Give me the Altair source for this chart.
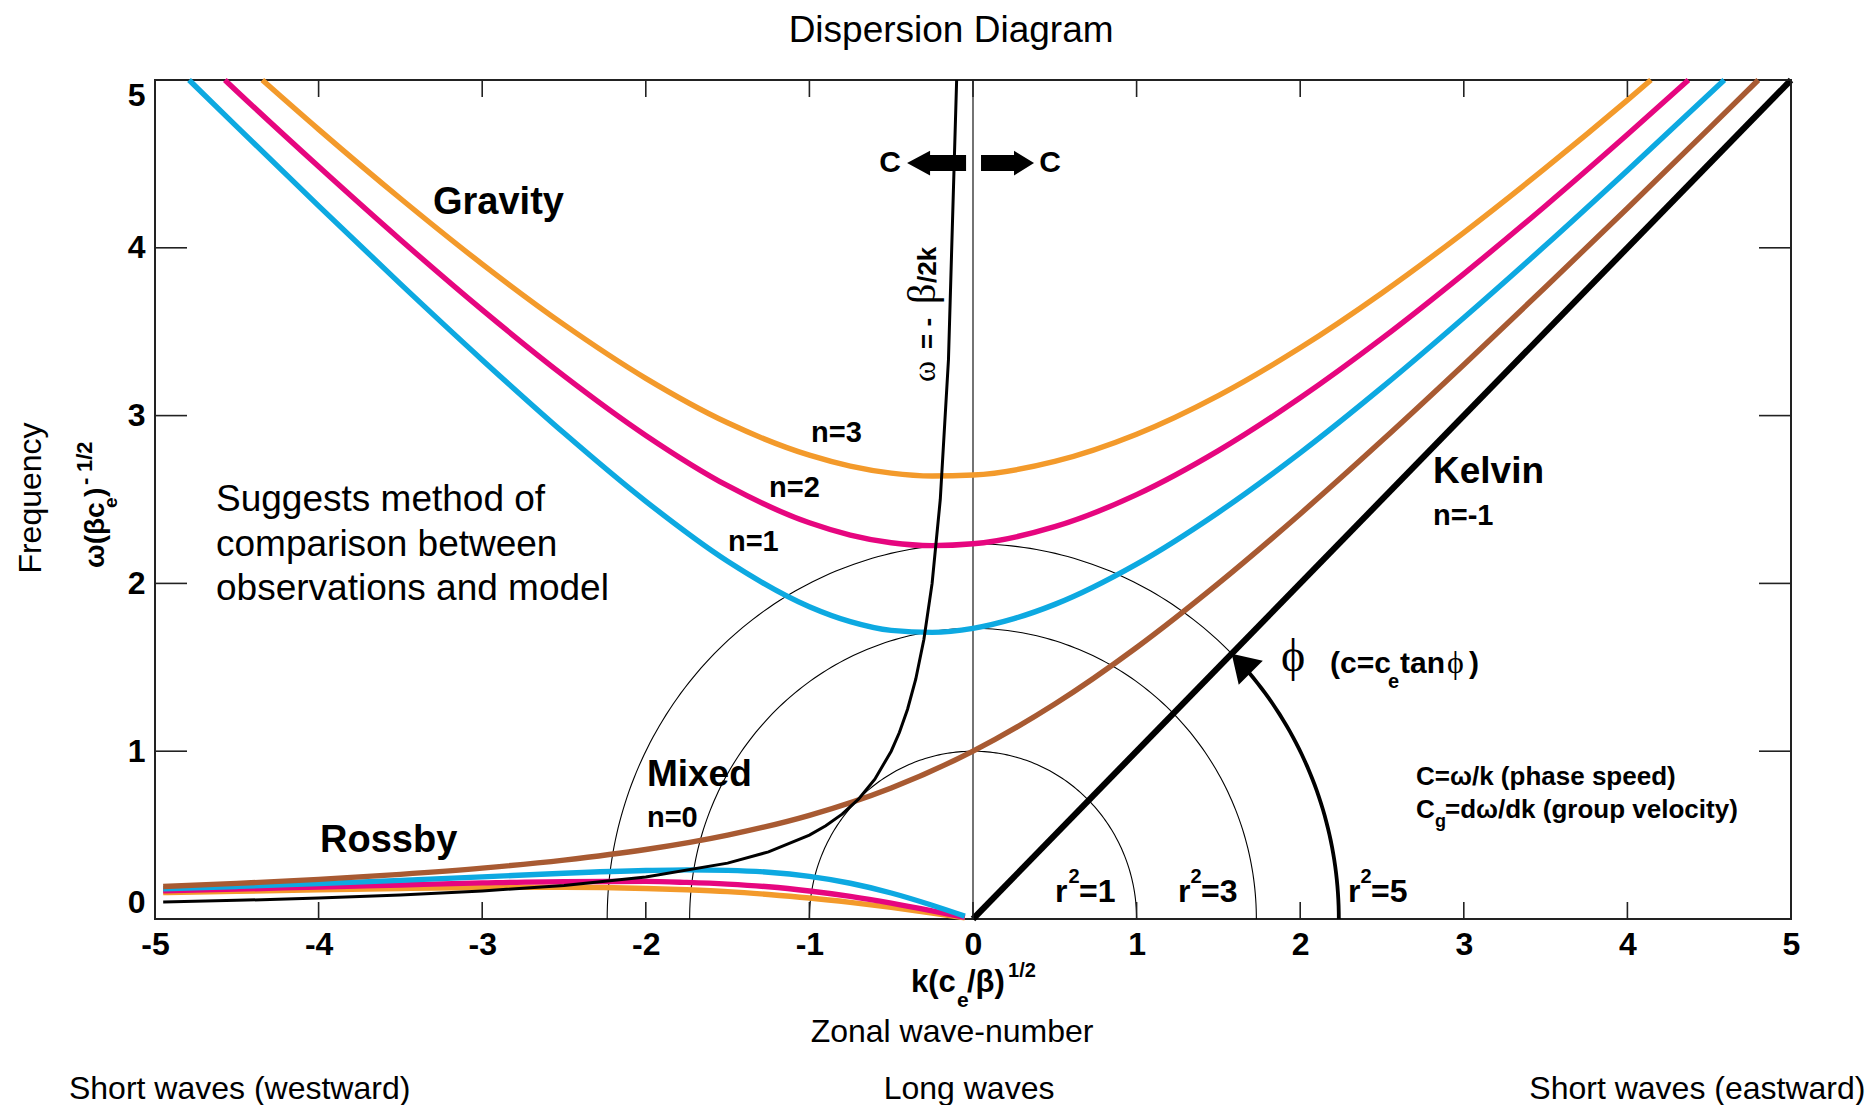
import math
import pandas as pd
import altair as alt

# ------------------------------------------------------------------
# Values (k = k(c_e/beta)^1/2, w = frequency)
# ------------------------------------------------------------------
K_N1_GRAV = [-4.792, -4.5, -4.0, -3.5, -3.0, -2.5, -2.0, -1.5, -1.0, -0.75, -0.5, -0.25, 0.0, 0.25, 0.5, 1.0, 1.5, 2.0, 2.5, 3.0, 3.5, 4.0, 4.592]
W_N1_GRAV = [5.0, 4.722, 4.250, 3.785, 3.332, 2.896, 2.489, 2.132, 1.861, 1.772, 1.720, 1.708, 1.732, 1.790, 1.875, 2.115, 2.423, 2.778, 3.168, 3.583, 4.015, 4.461, 5.0]

K_N2_GRAV = [-4.573, -4.5, -4.0, -3.5, -3.0, -2.5, -2.0, -1.5, -1.0, -0.75, -0.5, -0.25, 0.0, 0.5, 1.0, 1.5, 2.0, 2.5, 3.0, 3.5, 4.0, 4.373]
W_N2_GRAV = [5.0, 4.933, 4.484, 4.048, 3.630, 3.237, 2.882, 2.582, 2.361, 2.288, 2.242, 2.225, 2.236, 2.338, 2.529, 2.791, 3.106, 3.460, 3.845, 4.251, 4.675, 5.0]

K_N3_GRAV = [-4.344, -4.0, -3.5, -3.0, -2.5, -2.0, -1.5, -1.0, -0.75, -0.5, -0.25, 0.0, 0.5, 1.0, 1.5, 2.0, 2.5, 3.0, 3.5, 4.0, 4.144]
W_N3_GRAV = [5.0, 4.706, 4.294, 3.903, 3.542, 3.222, 2.957, 2.764, 2.699, 2.657, 2.640, 2.646, 2.727, 2.889, 3.119, 3.404, 3.731, 4.091, 4.476, 4.880, 5.0]

K_ROSSBY = [-4.95, -4.5, -4.0, -3.5, -3.0, -2.5, -2.0, -1.75, -1.5, -1.25, -1.0, -0.75, -0.5, -0.25, -0.05]
W_N1_ROSS = [0.180, 0.194, 0.211, 0.230, 0.251, 0.273, 0.289, 0.293, 0.290, 0.279, 0.254, 0.213, 0.155, 0.082, 0.017]
W_N2_ROSS = [0.168, 0.178, 0.191, 0.203, 0.215, 0.223, 0.224, 0.218, 0.208, 0.192, 0.167, 0.135, 0.095, 0.049, 0.010]
W_N3_ROSS = [0.157, 0.165, 0.174, 0.182, 0.188, 0.189, 0.182, 0.174, 0.163, 0.146, 0.125, 0.099, 0.069, 0.035, 0.007]

K_MIXED = [-4.95, -4.5, -4.0, -3.5, -3.0, -2.5, -2.0, -1.5, -1.0, -0.5, 0.0, 0.5, 1.0, 1.5, 2.0, 2.5, 3.0, 3.5, 4.0, 4.5, 4.8]
W_MIXED = [0.194, 0.212, 0.236, 0.266, 0.303, 0.351, 0.414, 0.500, 0.618, 0.781, 1.000, 1.281, 1.618, 2.000, 2.414, 2.851, 3.303, 3.766, 4.236, 4.712, 5.0]

K_KELVIN = [0.0, 5.0]
W_KELVIN = [0.0, 5.0]

K_ZERO_CG = [-4.95, -4.5, -4.0, -3.5, -3.0, -2.5, -2.0, -1.5, -1.25, -1.0, -0.9, -0.8, -0.7, -0.6, -0.5, -0.45, -0.4, -0.35, -0.3, -0.25, -0.2, -0.15, -0.1]
W_ZERO_CG = [0.101, 0.111, 0.125, 0.143, 0.167, 0.200, 0.250, 0.333, 0.400, 0.500, 0.556, 0.625, 0.714, 0.833, 1.000, 1.111, 1.250, 1.429, 1.667, 2.000, 2.500, 3.333, 5.000]

R_SQUARED = [1, 3, 5]
PHI_ARC_R2 = 5
PHI_ARC_DEG = [0, 41]
PHI_TIP_DEG = 45

X_TICKS = [-5, -4, -3, -2, -1, 0, 1, 2, 3, 4, 5]
Y_TICKS = [0, 1, 2, 3, 4, 5]

# ------------------------------------------------------------------
# Styles
# ------------------------------------------------------------------
SANS = "Liberation Sans, Arial, Helvetica, sans-serif"
SERIF = "Liberation Serif, DejaVu Serif, Times New Roman, serif"
BLUE = "#0DA9E1"
MAGENTA = "#E6067F"
ORANGE = "#F39A2B"
BROWN = "#A85A32"
BLACK = "#000000"
PW, PH = 1636, 839
CURVE_W = 5.4

xs = alt.Scale(domain=[-5, 5], nice=False, zero=False)
ys = alt.Scale(domain=[0, 5], nice=False, zero=False)
x_axis = alt.Axis(values=X_TICKS, labelExpr="datum.value + ''", labelFont=SANS, labelFontSize=32,
                  labelFontWeight="bold", labelColor="black", ticks=False, tickSize=0, domain=False,
                  grid=False, labelPadding=10, title=None, labelOverlap=False, labelFlush=False)
y_axis = alt.Axis(values=Y_TICKS, labelExpr="datum.value + ''", labelFont=SANS, labelFontSize=32,
                  labelFontWeight="bold", labelColor="black", ticks=False, tickSize=0, domain=False,
                  grid=False, labelPadding=10, title=None, labelFlush=True, labelOverlap=False)
X = alt.X("k:Q", scale=xs, axis=x_axis)
Y = alt.Y("w:Q", scale=ys, axis=y_axis)


def curve(k, w, color, width, interp="monotone"):
    df = pd.DataFrame({"k": k, "w": w})
    return alt.Chart(df).mark_line(color=color, strokeWidth=width, interpolate=interp).encode(x=X, y=Y)


def arc_points(r2, deg0, deg1):
    r = math.sqrt(r2)
    ang = [math.radians(d) for d in range(deg0, deg1 + 1)]
    return [r * math.cos(a) for a in ang], [r * math.sin(a) for a in ang]


def texts(rows, size, weight="bold", font=SANS, align="left", angle=0):
    df = pd.DataFrame(rows, columns=["k", "w", "t"])
    kw = dict(align=align, baseline="alphabetic", font=font, fontSize=size, fontWeight=weight, color="black")
    if angle:
        kw["angle"] = angle
    return alt.Chart(df).mark_text(**kw).encode(x=X, y=Y, text="t:N")


layers = []

# thin semicircles r^2 = 1, 3, 5 and k = 0 line
for r2 in R_SQUARED:
    ck, cw = arc_points(r2, 0, 180)
    layers.append(curve(ck, cw, BLACK, 1.1, "linear"))
layers.append(alt.Chart(pd.DataFrame({"k": [0]})).mark_rule(color=BLACK, strokeWidth=1.1)
              .encode(x=X, y=alt.value(0), y2=alt.value(PH)))

# Rossby + gravity branches
layers.append(curve(K_ROSSBY, W_N3_ROSS, ORANGE, CURVE_W))
layers.append(curve(K_ROSSBY, W_N2_ROSS, MAGENTA, CURVE_W))
layers.append(curve(K_ROSSBY, W_N1_ROSS, BLUE, CURVE_W))
layers.append(curve(K_N3_GRAV, W_N3_GRAV, ORANGE, CURVE_W))
layers.append(curve(K_N2_GRAV, W_N2_GRAV, MAGENTA, CURVE_W))
layers.append(curve(K_N1_GRAV, W_N1_GRAV, BLUE, CURVE_W))
layers.append(curve(K_MIXED, W_MIXED, BROWN, CURVE_W))
layers.append(curve(K_KELVIN, W_KELVIN, BLACK, 6.2, "linear"))
layers.append(curve(K_ZERO_CG, W_ZERO_CG, BLACK, 3.0, "linear"))

# phi arrow
ak, aw = arc_points(PHI_ARC_R2, PHI_ARC_DEG[0], PHI_ARC_DEG[1])
layers.append(curve(ak, aw, BLACK, 3.8, "linear"))
tip_r = math.sqrt(PHI_ARC_R2)
tip = pd.DataFrame({"k": [tip_r * math.cos(math.radians(PHI_TIP_DEG))],
                    "w": [tip_r * math.sin(math.radians(PHI_TIP_DEG))]})
layers.append(alt.Chart(tip).mark_point(shape="M0,0L-0.85,1.35L0.85,1.35Z", size=1600, filled=True,
                                        color=BLACK, opacity=1, strokeWidth=0, angle=315)
              .encode(x=X, y=Y))

# C arrows
left_arrow = pd.DataFrame({"k": [-0.403], "w": [4.505]})
right_arrow = pd.DataFrame({"k": [0.373], "w": [4.505]})
layers.append(alt.Chart(left_arrow).mark_point(
    shape="M0,0L1.15,-0.62L1.15,-0.4L2.95,-0.4L2.95,0.4L1.15,0.4L1.15,0.62Z",
    size=1600, filled=True, color=BLACK, opacity=1, strokeWidth=0).encode(x=X, y=Y))
layers.append(alt.Chart(right_arrow).mark_point(
    shape="M0,0L-1,-0.62L-1,-0.4L-2.65,-0.4L-2.65,0.4L-1,0.4L-1,0.62Z",
    size=1600, filled=True, color=BLACK, opacity=1, strokeWidth=0).encode(x=X, y=Y))

# ticks (inside, on all four sides)
xt = pd.DataFrame({"k": X_TICKS})
yt = pd.DataFrame({"w": Y_TICKS})
layers.append(alt.Chart(xt).mark_rule(color="#222", strokeWidth=1.6).encode(x=X, y=alt.value(PH), y2=alt.value(PH - 17)))
layers.append(alt.Chart(xt).mark_rule(color="#222", strokeWidth=1.6).encode(x=X, y=alt.value(0), y2=alt.value(17)))
layers.append(alt.Chart(yt).mark_rule(color="#222", strokeWidth=1.6).encode(y=Y, x=alt.value(0), x2=alt.value(32)))
layers.append(alt.Chart(yt).mark_rule(color="#222", strokeWidth=1.6).encode(y=Y, x=alt.value(PW), x2=alt.value(PW - 32)))

# ------------------------------------------------------------------
# Text
# ------------------------------------------------------------------
layers.append(texts([(-0.134, 5.226, "Dispersion Diagram")], 37, "normal", align="center"))
layers.append(texts([(-0.128, -0.733, "Zonal wave-number")], 32, "normal", align="center"))
layers.append(texts([(-5.526, -1.073, "Short waves (westward)")], 32, "normal"))
layers.append(texts([(-0.024, -1.073, "Long waves")], 32, "normal", align="center"))
layers.append(texts([(5.455, -1.073, "Short waves (eastward)")], 32, "normal", align="right"))
layers.append(texts([(-5.697, 2.509, "Frequency")], 32, "normal", align="center", angle=270))

# y axis title
layers.append(texts([(-5.312, 2.092, "ω(βc"), (-5.312, 2.515, ")")], 28, angle=270))
layers.append(texts([(-5.232, 2.449, "e")], 19, angle=270))
layers.append(texts([(-5.385, 2.586, "-"), (-5.385, 2.664, "1/2")], 22, angle=270))
# x axis title
layers.append(texts([(-0.379, -0.435, "k(c"), (-0.037, -0.435, "/β)")], 31))
layers.append(texts([(-0.098, -0.524, "e")], 21))
layers.append(texts([(0.214, -0.346, "1/2")], 20))

# curve labels
layers.append(texts([(-3.301, 4.201, "Gravity"), (-3.991, 0.399, "Rossby")], 38))
layers.append(texts([(2.812, 2.598, "Kelvin"), (-1.993, 0.793, "Mixed")], 37))
layers.append(texts([(-0.990, 2.840, "n=3"), (-1.247, 2.512, "n=2"), (-1.498, 2.193, "n=1"),
                     (2.812, 2.348, "n=-1"), (-1.993, 0.548, "n=0")], 29))
layers.append(texts([(-4.627, 2.431, "Suggests method of"), (-4.627, 2.163, "comparison between"),
                     (-4.627, 1.901, "observations and model")], 37, "normal"))

# phase / group speed notes
layers.append(texts([(2.708, 0.799, "C=ω/k (phase speed)"), (2.708, 0.602, "C"),
                     (2.885, 0.602, "=dω/dk (group velocity)")], 26))
layers.append(texts([(2.824, 0.548, "g")], 18))

# r^2 labels
layers.append(texts([(0.501, 0.101, "r"), (1.253, 0.101, "r"), (2.292, 0.101, "r"),
                     (0.648, 0.101, "=1"), (1.394, 0.101, "=3"), (2.433, 0.101, "=5")], 32))
layers.append(texts([(0.584, 0.215, "2"), (1.330, 0.215, "2"), (2.369, 0.215, "2")], 20))

# phi annotation
layers.append(texts([(1.956, 1.478, "ϕ")], 46, "normal", font=SERIF, align="center"))
layers.append(texts([(2.182, 1.466, "(c=c"), (2.610, 1.466, "tan"), (3.032, 1.466, ")")], 30))
layers.append(texts([(2.537, 1.377, "e")], 20))
layers.append(texts([(2.897, 1.466, "ϕ")], 32, "normal", font=SERIF))

# C arrows labels
layers.append(texts([(-0.507, 4.452, "C"), (0.471, 4.452, "C")], 30, align="center"))

# omega = -beta/2k label
layers.append(texts([(-0.232, 3.200, "ω")], 32, "normal", font=SERIF, angle=270))
layers.append(texts([(-0.232, 3.665, "β")], 40, "normal", font=SERIF, angle=270))
layers.append(texts([(-0.226, 3.397, "= -"), (-0.226, 3.790, "/2k")], 26, angle=270))

chart = alt.layer(*layers).properties(
    width=PW, height=PH,
    padding={"left": 147, "top": 72, "right": 76, "bottom": 186},
    autosize=alt.AutoSizeParams(type="none"),
).configure_view(stroke="#222", strokeWidth=2)

chart.save("out.html", embed_options={"renderer": "svg", "actions": False})
